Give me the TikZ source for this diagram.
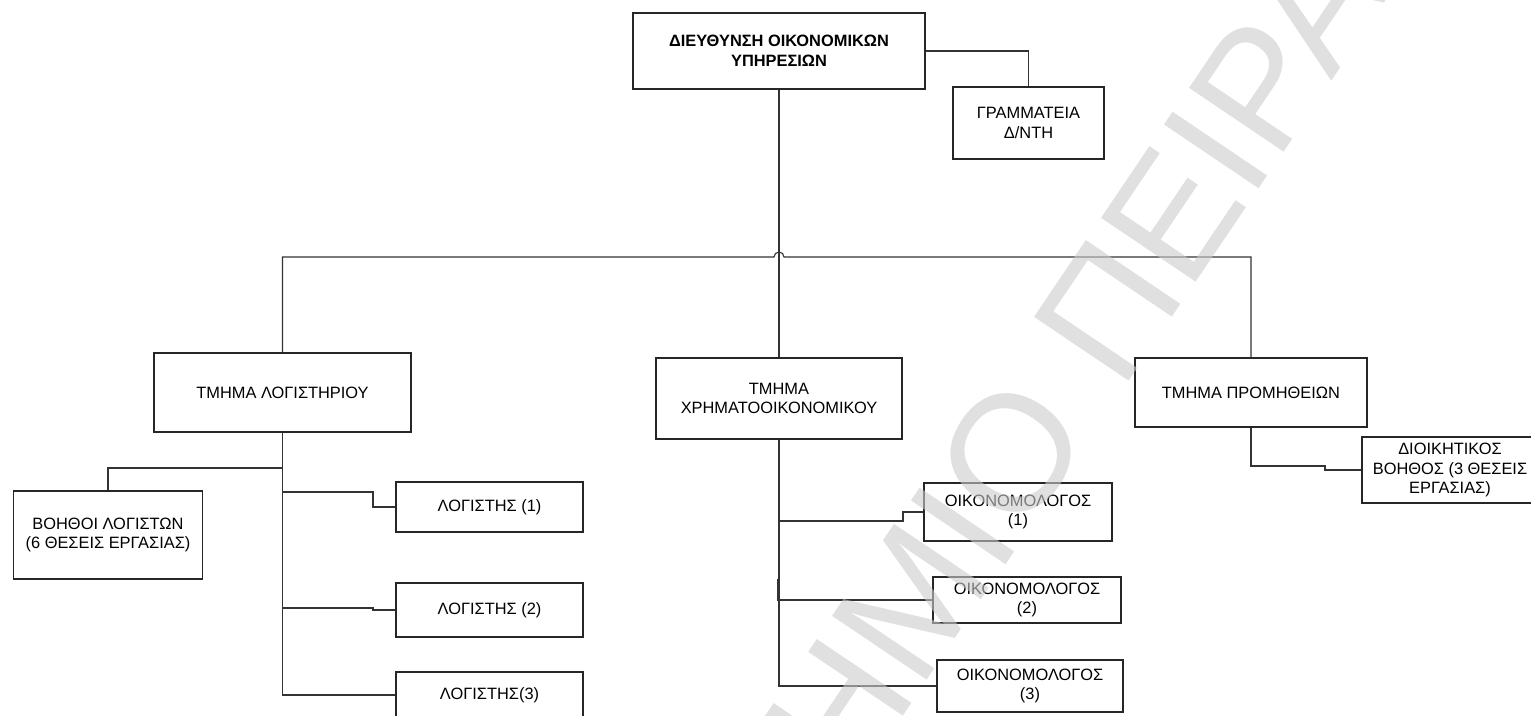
\documentclass[tikz,border=0pt]{standalone}
\usepackage{fontspec}
\setmainfont{Liberation Sans}
\usetikzlibrary{calc}
\newcommand\dfs{\fontsize{8.2pt}{9.9pt}\selectfont}
\begin{document}
\begin{tikzpicture}[x=0.5pt,y=-0.5pt,
 box/.style={draw=black!85,line width=0.6pt,fill=white,align=center,inner sep=0pt,font=\dfs},
 wd/.style={minimum width=#1*0.5pt}, ht/.style={minimum height=#1*0.5pt},
 conn/.style={draw=black!80,line width=0.55pt},
 wm/.style={font=\fontsize{83pt}{83pt}\selectfont, text=black!20, text opacity=0.6, inner sep=0pt, rotate=56}]
\useasboundingbox (0,0) rectangle (1531,716);
\clip (0,0) rectangle (1531,716);
\fill[white] (0,0) rectangle (1531,716);

\node[box,wd=292,ht=76,font=\dfs\bfseries] (top) at (779,51) {ΔΙΕΥΘΥΝΣΗ ΟΙΚΟΝΟΜΙΚΩΝ\\ΥΠΗΡΕΣΙΩΝ};
\node[box,wd=151,ht=72] (sec) at (1028.5,123) {ΓΡΑΜΜΑΤΕΙΑ\\Δ/ΝΤΗ};
\node[box,wd=257,ht=79] (dL) at (282.5,392.5) {ΤΜΗΜΑ ΛΟΓΙΣΤΗΡΙΟΥ};
\node[box,wd=246,ht=81] (dM) at (779,398.5) {ΤΜΗΜΑ\\ΧΡΗΜΑΤΟΟΙΚΟΝΟΜΙΚΟΥ};
\node[box,wd=232,ht=69] (dR) at (1251,392.5) {ΤΜΗΜΑ ΠΡΟΜΗΘΕΙΩΝ};
\node[box,wd=176,ht=66] (dio) at (1450,470) {ΔΙΟΙΚΗΤΙΚΟΣ\\ΒΟΗΘΟΣ (3 ΘΕΣΕΙΣ\\ΕΡΓΑΣΙΑΣ)};
\node[box,wd=189,ht=88] (boi) at (108,535) {ΒΟΗΘΟΙ ΛΟΓΙΣΤΩΝ\\(6 ΘΕΣΕΙΣ ΕΡΓΑΣΙΑΣ)};
\node[box,wd=187,ht=50] (l1) at (489.5,507) {ΛΟΓΙΣΤΗΣ (1)};
\node[box,wd=187,ht=54] (l2) at (489.5,610) {ΛΟΓΙΣΤΗΣ (2)};
\node[box,wd=187,ht=46] (l3) at (489.5,695) {ΛΟΓΙΣΤΗΣ(3)};
\node[box,wd=188,ht=58] (o1) at (1018,512) {ΟΙΚΟΝΟΜΟΛΟΓΟΣ\\(1)};
\node[box,wd=188,ht=46] (o2) at (1027,600) {ΟΙΚΟΝΟΜΟΛΟΓΟΣ\\(2)};
\node[box,wd=186,ht=52] (o3) at (1030,686) {ΟΙΚΟΝΟΜΟΛΟΓΟΣ\\(3)};

\draw[conn] (top.east) -| (sec.north);
\draw[conn] (top.south) -- (dM.north);
\coordinate (hl) at (774,257);
\coordinate (hr) at (784,257);
\draw[conn] (dL.north) |- (hl) arc[start angle=180,end angle=0,radius=2.5pt] -- (hr) -| (dR.north);

\draw[conn] (dL.south) |- (l3.west);
\coordinate (b1) at (108,468);
\draw[conn] (b1 -| dL.south) -| (boi.north);
\coordinate (j1) at (373,492);
\draw[conn] (j1 -| dL.south) -- (j1) |- (l1.west);
\coordinate (j2) at (373,608);
\draw[conn] (j2 -| dL.south) -- (j2) |- (l2.west);

\draw[conn] (dM.south) |- (o3.west);
\coordinate (k1) at (903,521);
\draw[conn] (k1 -| dM.south) -- (k1) |- (o1.west);
\coordinate (k2) at (777.6,579);
\draw[conn] (k2) |- (o2.west);

\coordinate (r1) at (1325,466);
\draw[conn] (dR.south) |- (r1) |- (dio.west);

\node[wm,anchor=base west] (wmA) at (1121.2,393.2) {ΠΕΙΡΑΙΩΣ};
\node[wm,anchor=base east] (wmB) at (1095.4,431.4) {ΠΑΝΕΠΙΣΤΗΜΙΟ};
\end{tikzpicture}
\end{document}
